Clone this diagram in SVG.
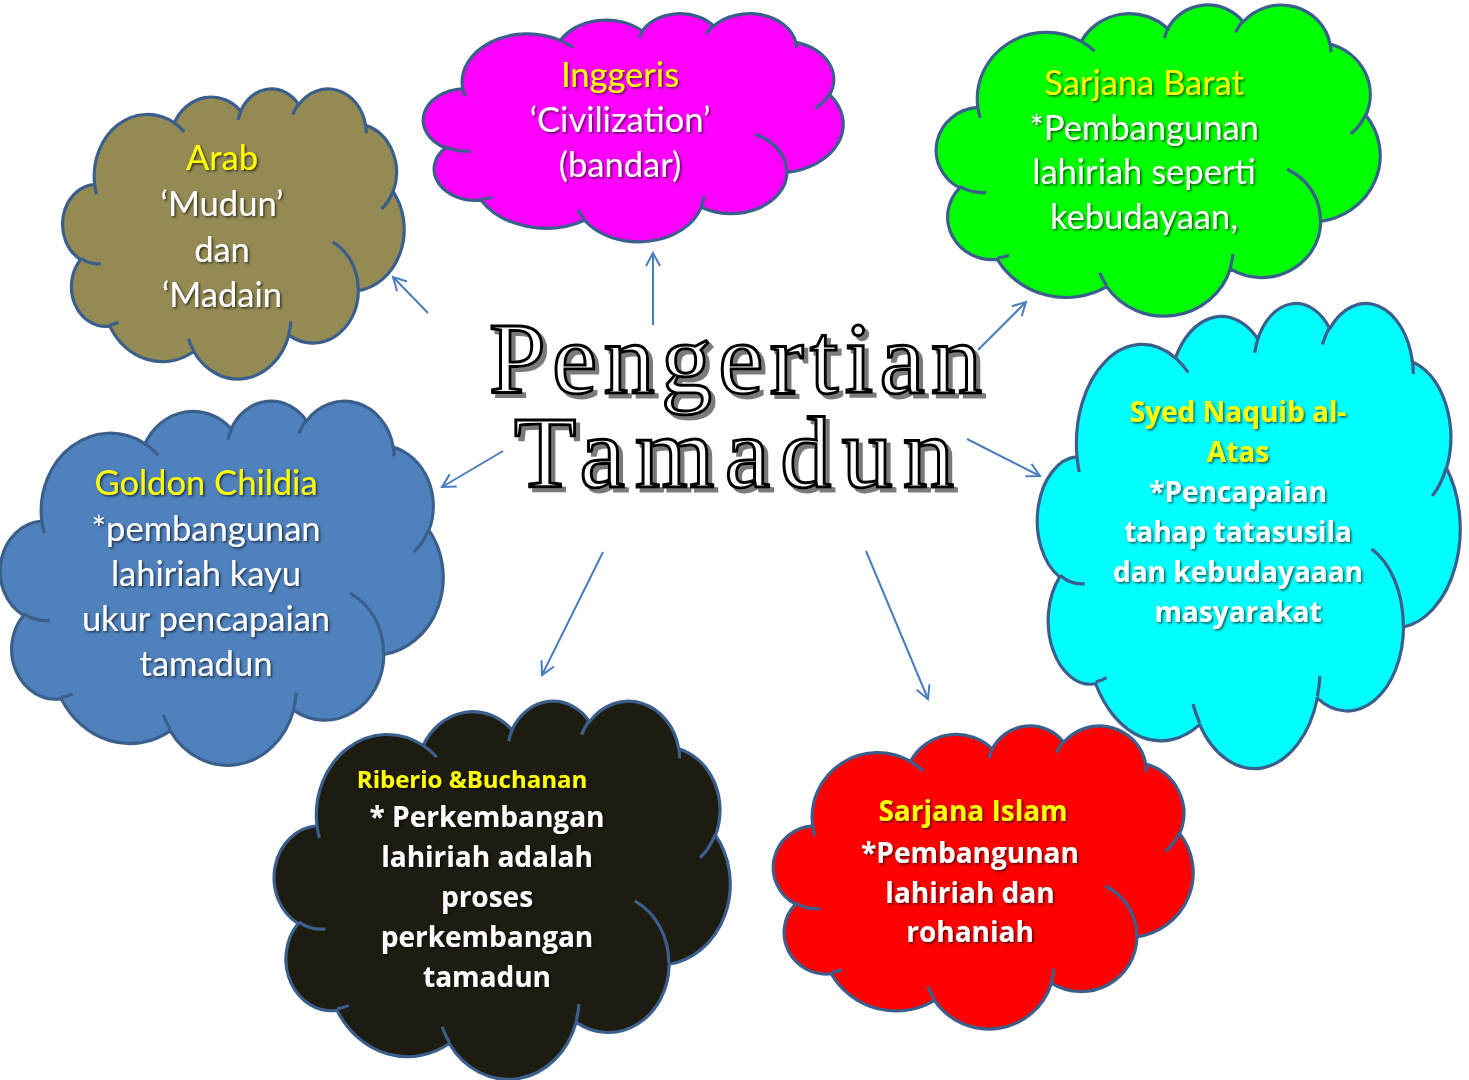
<svg xmlns="http://www.w3.org/2000/svg" xmlns:xlink="http://www.w3.org/1999/xlink" width="1469" height="1080" viewBox="0 0 1469 1080">
<style>
.cl{stroke:#3B5F8C;stroke-width:3.2;stroke-linejoin:round}
.t{font-family:Lato,"Open Sans",sans-serif;font-size:34.5px;fill:#ffffff;text-anchor:middle;filter:url(#ts)}
.b{font-family:"Open Sans",Lato,sans-serif;font-weight:700;font-size:28px}
.y{fill:#FFFF00}
.ttl{font-family:"Liberation Serif","Times New Roman",serif;font-size:102px;fill:#ffffff;stroke:#000000;stroke-width:3;paint-order:normal;filter:url(#tsh)}
.ar{fill:none;stroke:#4A7EBB;stroke-width:2;marker-end:url(#ah)}
</style>
<defs>
<filter id="ts" x="-10%" y="-30%" width="120%" height="160%">
<feDropShadow dx="1.5" dy="1.5" stdDeviation="1" flood-color="#000000" flood-opacity="0.65"/>
</filter>
<filter id="tsh" x="-5%" y="-10%" width="115%" height="130%">
<feFlood flood-color="#7A7A7A" result="g"/>
<feComposite in="g" in2="SourceAlpha" operator="in" result="s"/>
<feOffset in="s" dx="4" dy="4" result="o"/>
<feMerge><feMergeNode in="o"/><feMergeNode in="SourceGraphic"/></feMerge>
</filter>
<marker id="ah" viewBox="-16 -9 18 18" refX="0" refY="0" markerWidth="18" markerHeight="18" markerUnits="userSpaceOnUse" orient="auto">
<path d="M-13,-7 L0,0 L-13,7" fill="none" stroke="#4A7EBB" stroke-width="2"/>
</marker>
<path id="co" class="cl" vector-effect="non-scaling-stroke" d="M90.28,332.64 A156.32,212.73 0 0 1 324.19,120.42 A123.45,168.22 0 0 1 519.84,79.38 A101.04,137.62 0 0 1 690.58,57.27 A112.43,152.66 0 0 1 887.01,128.91 A123.45,168.36 0 0 1 968.03,357.69 A156.83,213.43 0 0 1 865.90,699.03 A133.91,182.11 0 0 1 661.09,852.04 A156.30,213.31 0 0 1 381.57,908.82 A178.70,244.05 0 0 1 134.49,821.06 A100.93,136.99 0 0 1 49.00,591.44 A100.58,137.62 0 0 1 90.28,332.64 Z"/>
<path id="ci" class="cl" fill="none" vector-effect="non-scaling-stroke" d="M108.63,605.95 A100.58,137.62 0 0 1 50.00,587.50 M160.37,807.85 A100.93,136.99 0 0 1 134.72,816.69 M381.44,904.86 A156.30,213.31 0 0 1 365.97,864.56 M667.29,804.42 A156.30,213.31 0 0 1 661.13,848.59 M790.02,531.34 A133.91,182.11 0 0 1 865.30,696.53 M967.55,355.42 A123.45,168.36 0 0 1 934.03,417.36 M887.13,125.60 A112.43,152.66 0 0 1 888.89,154.84 M673.10,91.48 A112.43,152.66 0 0 1 690.25,54.19 M512.52,109.26 A101.04,137.62 0 0 1 520.83,77.11 M324.07,120.19 A156.32,212.73 0 0 1 354.21,151.46 M95.53,365.49 A156.32,212.73 0 0 1 90.28,332.64"/>
</defs>
<rect width="1469" height="1080" fill="#ffffff"/>
<g id="connectors">
<line class="ar" x1="428" y1="313" x2="393" y2="277"/>
<line class="ar" x1="653" y1="325" x2="653" y2="253"/>
<line class="ar" x1="978" y1="350" x2="1026" y2="302"/>
<line class="ar" x1="967" y1="439" x2="1040" y2="476"/>
<line class="ar" x1="503" y1="451" x2="442" y2="487"/>
<line class="ar" x1="603" y1="552" x2="542" y2="675"/>
<line class="ar" x1="866" y1="551" x2="928" y2="699"/>
</g>
<g id="node-arab">
<g transform="translate(64,88) scale(0.340,0.290)"><use xlink:href="#co" fill="#948A54"/><use xlink:href="#ci"/></g>
<text class="t y" x="222" y="170">Arab</text>
<text class="t" x="222" y="216">‘Mudun’</text>
<text class="t" x="222" y="262">dan</text>
<text class="t" x="222" y="307">‘Madain</text>
</g>
<g id="node-inggeris">
<g transform="translate(425,13) scale(0.418,0.228)"><use xlink:href="#co" fill="#FF00FF"/><use xlink:href="#ci"/></g>
<text class="t y" x="620" y="87">Inggeris</text>
<text class="t" x="620" y="132">‘Civilization’</text>
<text class="t" x="620" y="177">(bandar)</text>
</g>
<g id="node-barat">
<g transform="translate(938,4) scale(0.442,0.311)"><use xlink:href="#co" fill="#00FF00"/><use xlink:href="#ci"/></g>
<text class="t y" x="1144" y="95">Sarjana Barat</text>
<text class="t" x="1144" y="140">*Pembangunan</text>
<text class="t" x="1144" y="184">lahiriah seperti</text>
<text class="t" x="1144" y="229">kebudayaan,</text>
</g>
<g id="node-syed">
<g transform="translate(1039,302) scale(0.421,0.465)"><use xlink:href="#co" fill="#00FFFF"/><use xlink:href="#ci"/></g>
<text class="t b y" x="1238" y="422">Syed Naquib al-</text>
<text class="t b y" x="1238" y="462">Atas</text>
<text class="t b" x="1238" y="502">*Pencapaian</text>
<text class="t b" x="1238" y="542">tahap tatasusila</text>
<text class="t b" x="1238" y="582">dan kebudayaaan</text>
<text class="t b" x="1238" y="622">masyarakat</text>
</g>
<g id="node-goldon">
<g transform="translate(2,400) scale(0.441,0.364)"><use xlink:href="#co" fill="#4F81BD"/><use xlink:href="#ci"/></g>
<text class="t y" x="206" y="495">Goldon Childia</text>
<text class="t" x="206" y="541">*pembangunan</text>
<text class="t" x="206" y="586">lahiriah kayu</text>
<text class="t" x="206" y="631">ukur pencapaian</text>
<text class="t" x="206" y="676">tamadun</text>
</g>
<g id="node-riberio">
<g transform="translate(276,700) scale(0.454,0.378)"><use xlink:href="#co" fill="#1E1C11"/><use xlink:href="#ci"/></g>
<text class="t b y" x="472" y="788" style="font-size:24px">Riberio &amp;Buchanan</text>
<text class="t b" x="487" y="827">* Perkembangan</text>
<text class="t b" x="487" y="867">lahiriah adalah</text>
<text class="t b" x="487" y="907">proses</text>
<text class="t b" x="487" y="947">perkembangan</text>
<text class="t b" x="487" y="987">tamadun</text>
</g>
<g id="node-islam">
<g transform="translate(775,725) scale(0.418,0.303)"><use xlink:href="#co" fill="#FF0000"/><use xlink:href="#ci"/></g>
<text class="t b y" x="973" y="821">Sarjana Islam</text>
<text class="t b" x="970" y="863">*Pembangunan</text>
<text class="t b" x="970" y="903">lahiriah dan</text>
<text class="t b" x="970" y="942">rohaniah</text>
</g>
<g id="node-title">
<text class="ttl" x="489" y="393" textLength="493" lengthAdjust="spacing">Pengertian</text>
<text class="ttl" x="514" y="487" textLength="440" lengthAdjust="spacing">Tamadun</text>
</g>
</svg>
